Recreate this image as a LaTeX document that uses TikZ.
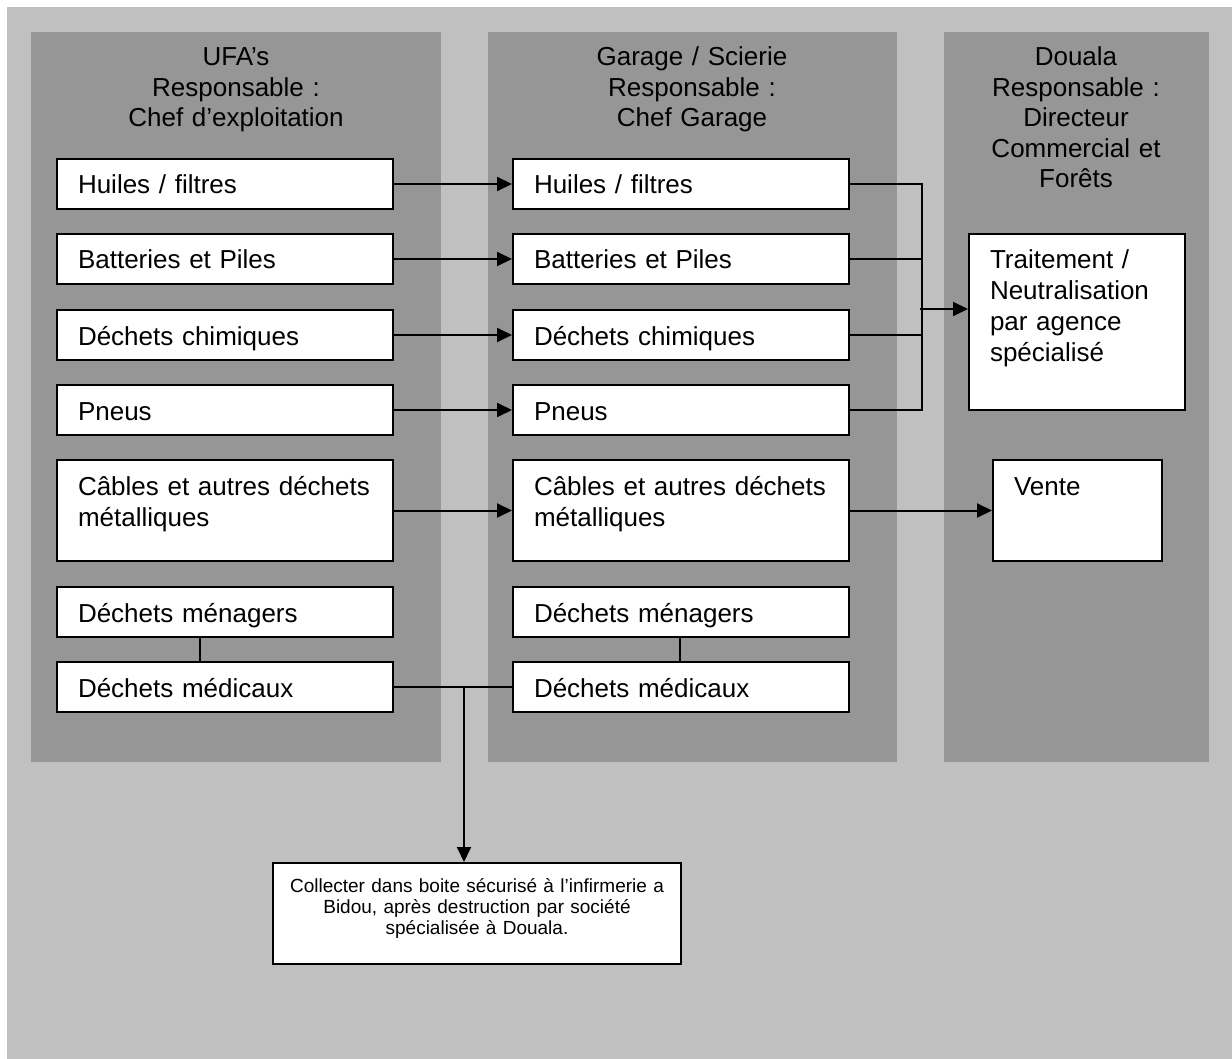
\documentclass[tikz,border=0pt]{standalone}
\usepackage{fontspec}
\setmainfont{Liberation Sans}
\usetikzlibrary{arrows.meta}
\definecolor{bgpale}{HTML}{C0C0C0}
\definecolor{colgrey}{HTML}{969696}
\tikzset{
  wbox/.style={draw, fill=white, anchor=north west, align=left,
    text width=147pt, inner xsep=10.5pt, inner ysep=4pt,
    text height=13.5pt, text depth=3.5pt,
    font=\fontsize{13}{15.5}\selectfont},
  head/.style={anchor=north, align=center, text width=120pt, inner sep=0pt,
    text height=10pt, font=\fontsize{13}{15.25}\selectfont},
  note/.style={draw, fill=white, anchor=north west, align=center,
    text width=196pt, inner sep=4pt, text height=10.5pt, text depth=32pt,
    font=\fontsize{9.5}{10.5}\selectfont},
  arr/.style={-{Triangle[length=7.5pt,width=7pt]}}
}
\newcommand*{\WasteBoxes}[1]{% #1 = list of name/y/depth/text
  \foreach \nm/\ypos/\dep/\lbl in {#1} {
    \node [wbox, text depth=\dep pt] (l\nm) at (56,\ypos) {\lbl};
    \node [wbox, text depth=\dep pt] (m\nm) at (512,\ypos) {\lbl};
  }%
}

\begin{document}
\begin{tikzpicture}[x=0.5pt, y=-0.5pt, line width=1pt]
  \useasboundingbox (0,0) rectangle (1232,1059);
  \fill[bgpale] (7,7) rectangle (1232,1059);
  % the three columns
  \foreach \xa/\xb in {31/441, 488/897, 944/1209}
    \fill[colgrey] (\xa,32) rectangle (\xb,762);

  \node[head] (hufa) at (236,45) {UFA’s\\Responsable :\\Chef d’exploitation};
  \node[head] (hgarage) at (692,45) {Garage / Scierie\\Responsable :\\Chef Garage};
  \node[head] (hdouala) at (1076,45)
    {Douala\\Responsable :\\Directeur\\Commercial et\\Forêts};

  \WasteBoxes{huile/158/3.5/{Huiles / filtres},
    batt/233/3.5/{Batteries et Piles},
    chim/309/3.5/{Déchets chimiques},
    pneu/384/3.5/{Pneus},
    cable/459/29/{\mbox{Câbles et autres déchets}\\métalliques},
    menag/586/3.5/{Déchets ménagers},
    medic/661/3.5/{Déchets médicaux}}

  \node[wbox, text width=87pt, text depth=66.5pt] (trait) at (968,233)
    {Traitement /\\Neutralisation\\par agence\\spécialisé};
  \node[wbox, text width=63.5pt, text depth=29pt] (vente) at (992,459) {Vente};
  \node[note] (collect) at (272,862)
    {Collecter dans boite sécurisé à l’infirmerie a\\Bidou, après destruction par société\\spécialisée à Douala.};

  \foreach \nm in {huile,batt,chim,pneu,cable}
    \draw[arr] (l\nm) -- (m\nm);

  % collecting line to treatment
  \draw (mhuile.east) -- ++(72,0) |- (mpneu.east);
  \draw (mbatt.east) -- ++(72,0);
  \draw (mchim.east) -- ++(72,0);
  \coordinate (merge) at (920,309);
  \draw[arr] (merge) -- (merge -| trait.west);
  \draw[arr] (mcable) -- (vente);

  % medical waste
  \draw ([xshift=72pt]lmenag.south west) -- ([xshift=72pt]lmedic.north west);
  \draw ([xshift=84pt]mmenag.south west) -- ([xshift=84pt]mmedic.north west);
  \draw (lmedic) -- (mmedic);
  \coordinate (drop) at (464,686);
  \draw[arr] (drop) -- (drop |- collect.north);
\end{tikzpicture}
\end{document}
